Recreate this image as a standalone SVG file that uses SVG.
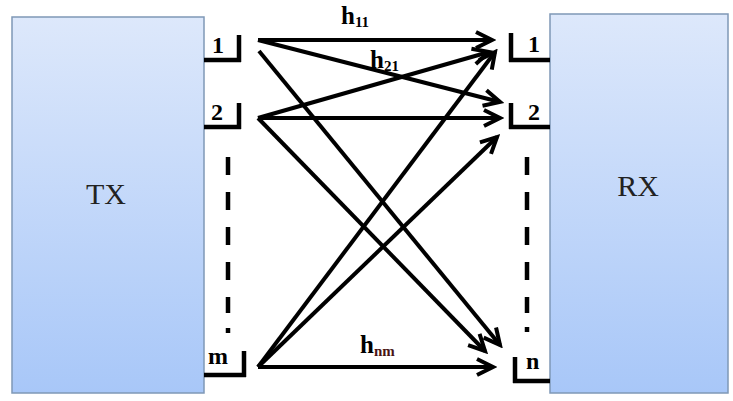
<svg xmlns="http://www.w3.org/2000/svg" width="733" height="401" viewBox="0 0 733 401">
<style>
.box{stroke:#7f98b6;stroke-width:1.5}
.port{fill:none;stroke:#000;stroke-width:4.5}
.dash{stroke:#000;stroke-width:4.5;stroke-dasharray:18 17}
.arr{stroke:#000;stroke-width:4;fill:none;marker-end:url(#ah)}
.lbl{font-family:"Liberation Serif","Times New Roman",serif;font-weight:bold;fill:#000}
.big{font-family:"Liberation Serif","Times New Roman",serif;font-size:30px;fill:#222}
</style>
<defs>
<linearGradient id="g" x1="0" y1="0" x2="0" y2="1">
<stop offset="0" stop-color="#dde8fb"/>
<stop offset="1" stop-color="#a8c7f8"/>
</linearGradient>
<marker id="ah" markerUnits="userSpaceOnUse" markerWidth="22" markerHeight="22" refX="18" refY="10" orient="auto" viewBox="0 0 22 20">
<path d="M2,2 L18,10 L2,18" fill="none" stroke="#000" stroke-width="4" stroke-linejoin="miter"/>
</marker>
</defs>
<g id="TX">
<rect class="box" x="12" y="17" width="192" height="376" fill="url(#g)"/>
<text class="big" x="106" y="204" text-anchor="middle">TX</text>
</g>
<g id="RX">
<rect class="box" x="550" y="14" width="178" height="379" fill="url(#g)"/>
<text class="big" x="638" y="196" text-anchor="middle">RX</text>
</g>
<g id="tx-port-1">
<path class="port" d="M204,60 H241 M239,35 V62"/>
<text class="lbl" x="212" y="53" font-size="24">1</text>
</g>
<g id="tx-port-2">
<path class="port" d="M204,127 H241 M239,103 V129"/>
<text class="lbl" x="211" y="120" font-size="24">2</text>
</g>
<g id="tx-port-m">
<path class="port" d="M204,375 H246 M244,351 V377"/>
<text class="lbl" x="208" y="364" font-size="24">m</text>
</g>
<g id="rx-port-1">
<path class="port" d="M511,33 V62 M509,60 H550"/>
<text class="lbl" x="528" y="52" font-size="24">1</text>
</g>
<g id="rx-port-2">
<path class="port" d="M511,103 V129 M509,127 H550"/>
<text class="lbl" x="528" y="120" font-size="24">2</text>
</g>
<g id="rx-port-n">
<path class="port" d="M515,357 V383 M513,381 H550"/>
<text class="lbl" x="526" y="369" font-size="24">n</text>
</g>
<g id="dots">
<line class="dash" x1="228" y1="157" x2="228" y2="313"/>
<line x1="228" y1="328" x2="228" y2="333" stroke="#000" stroke-width="4.5"/>
<line class="dash" x1="527" y1="157" x2="527" y2="313"/>
<line x1="527" y1="327" x2="527" y2="332" stroke="#000" stroke-width="4.5"/>
</g>
<g id="connectors">
<line class="arr" x1="258" y1="40" x2="492" y2="40"/>
<line class="arr" x1="258" y1="40" x2="500" y2="102"/>
<line class="arr" x1="259" y1="51" x2="500" y2="345"/>
<line class="arr" x1="258" y1="118" x2="489" y2="52"/>
<line class="arr" x1="258" y1="118" x2="500" y2="118"/>
<line class="arr" x1="258" y1="118" x2="485" y2="351"/>
<line class="arr" x1="258" y1="367" x2="495" y2="52"/>
<line class="arr" x1="258" y1="367" x2="497" y2="137"/>
<line class="arr" x1="258" y1="367" x2="493" y2="367"/>
</g>
<g id="labels">
<text class="lbl" x="341" y="24" font-size="25">h<tspan font-size="15" dy="3">11</tspan></text>
<text class="lbl" x="370" y="68" font-size="25">h<tspan font-size="15" dy="3">21</tspan></text>
<text class="lbl" x="360" y="353" font-size="25">h<tspan font-size="15" dy="3" fill="#4a1414">nm</tspan></text>
</g>
</svg>
